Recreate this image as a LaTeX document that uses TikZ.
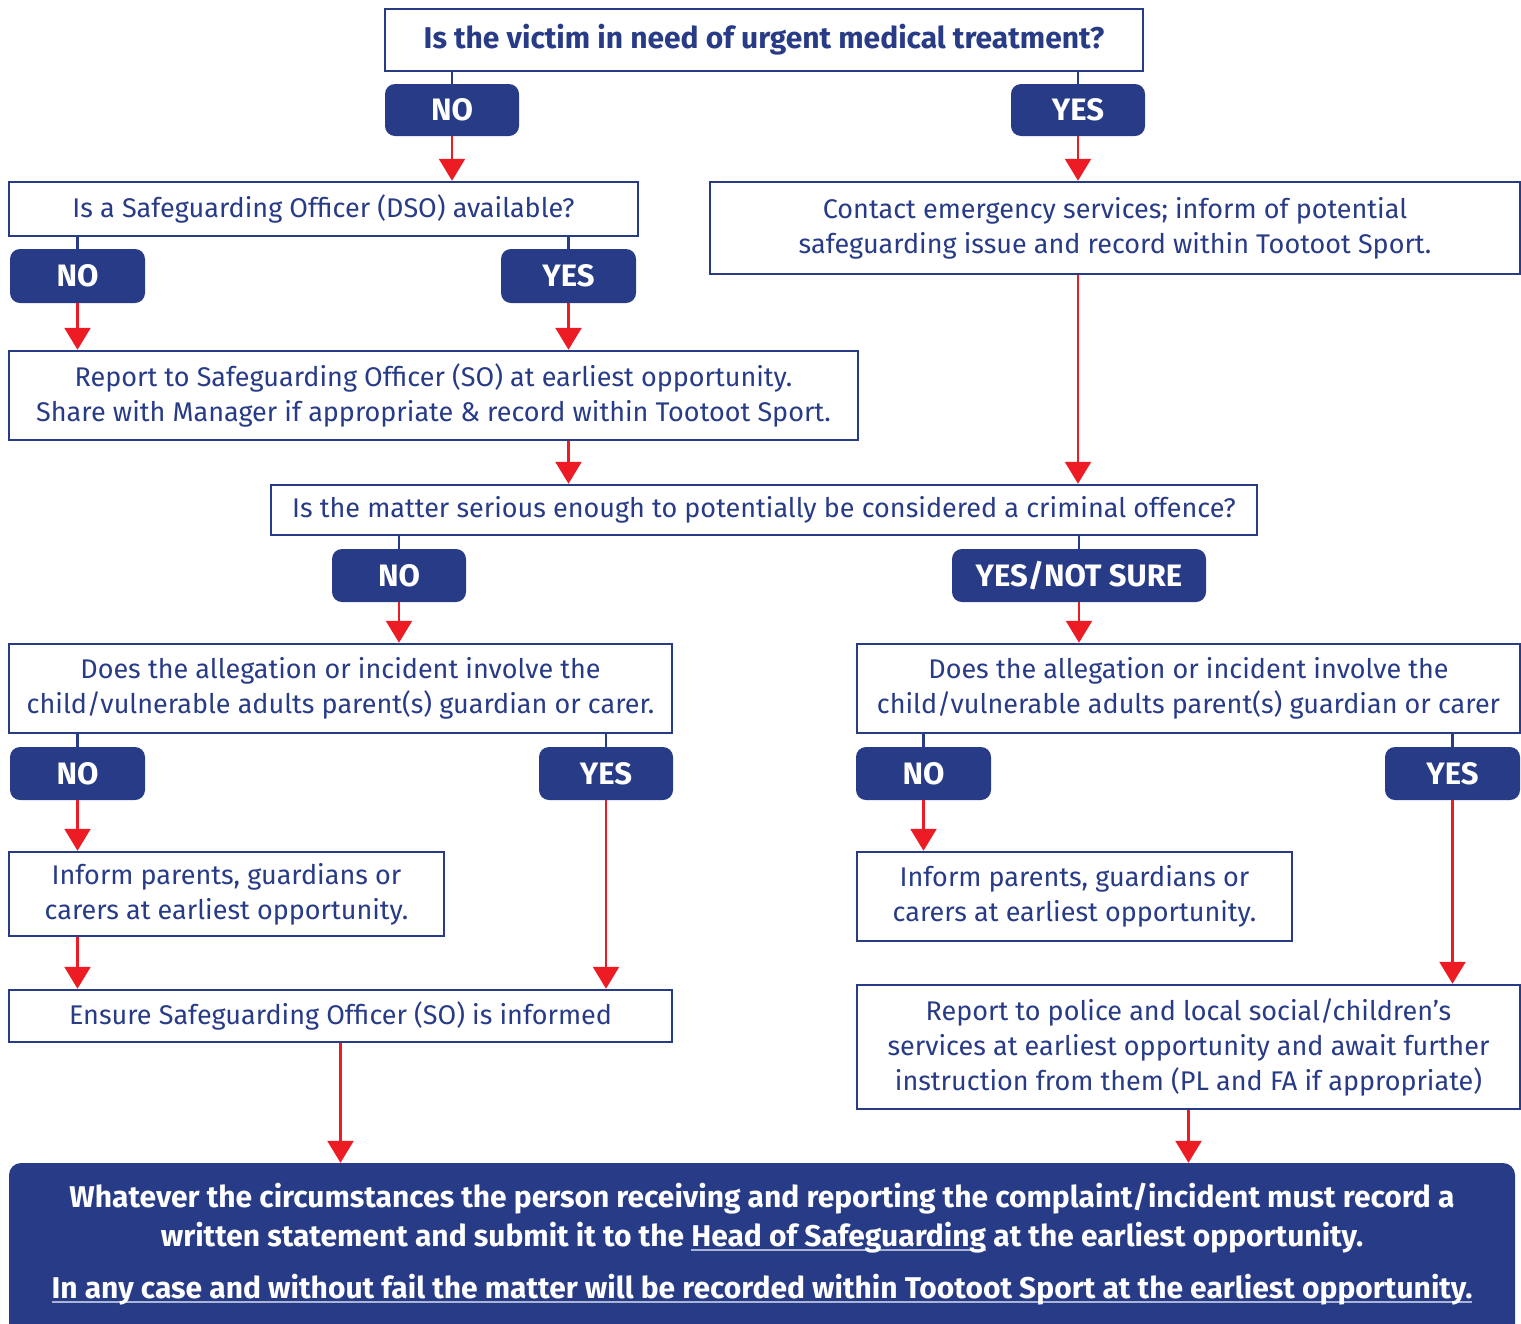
\documentclass[tikz,border=0pt]{standalone}
\usepackage{fontspec}
\setmainfont{Fira Sans}
\usetikzlibrary{arrows.meta}
\definecolor{navy}{RGB}{40,59,135}
\definecolor{arrred}{RGB}{237,28,36}
\definecolor{ullight}{RGB}{170,180,215}
\newcommand\myul[1]{\setbox0\hbox{#1}\rlap{\color{ullight}\rule[-5pt]{\wd0}{2pt}}\box0\relax}
\begin{document}
\begin{tikzpicture}[x=1pt,y=-1pt,
  box/.style={draw=navy, line width=2.5pt, fill=white, inner sep=0pt, align=center, text=navy,
     font=\fontsize{27}{35}\selectfont},
  topbox/.style={box, font=\bfseries\fontsize{30}{34}\selectfont},
  pill/.style={fill=navy, rounded corners=10pt, text=white, inner sep=0pt,
     font=\bfseries\fontsize{31}{32}\selectfont},
  arr/.style={draw=arrred, line width=2.5pt, -{Triangle[width=26pt,length=22pt]}},
  conn/.style={draw=navy, line width=2.5pt}]
\useasboundingbox (0,0) rectangle (1521,1323);

% boxes
\node[topbox, minimum width=758pt, minimum height=62pt] (b1) at (764,40) {Is the victim in need of urgent medical treatment?};
\node[box, minimum width=629pt, minimum height=54pt] (b4) at (323.5,209) {Is a Safeguarding Officer (DSO) available?};
\node[box, minimum width=810pt, minimum height=92pt] (b5) at (1115,228) {Contact emergency services; inform of potential\\safeguarding issue and record within Tootoot Sport.};
\node[box, minimum width=849pt, minimum height=89pt] (b8) at (433.5,395.5) {Report to Safeguarding Officer (SO) at earliest opportunity.\\Share with Manager if appropriate \& record within Tootoot Sport.};
\node[box, minimum width=986pt, minimum height=50pt] (b11) at (764,510) {Is the matter serious enough to potentially be considered a criminal offence?};
\node[box, minimum width=663pt, minimum height=89pt] (b14) at (340.5,688.5) {Does the allegation or incident involve the\\child/vulnerable adults parent(s) guardian or carer.};
\node[box, minimum width=663pt, minimum height=89pt] (b15) at (1188.5,688.5) {Does the allegation or incident involve the\\child/vulnerable adults parent(s) guardian or carer};
\node[box, minimum width=435pt, minimum height=84pt] (b20) at (226.5,894) {Inform parents, guardians or\\carers at earliest opportunity.};
\node[box, minimum width=663pt, minimum height=52pt] (b21) at (340.5,1016) {Ensure Safeguarding Officer (SO) is informed};
\node[box, minimum width=435pt, minimum height=89pt] (b22) at (1074.5,896.5) {Inform parents, guardians or\\carers at earliest opportunity.};
\node[box, minimum width=663pt, minimum height=124pt] (b23) at (1188.5,1047) {Report to police and local social/children’s\\services at earliest opportunity and await further\\instruction from them (PL and FA if appropriate)};

% bottom box
\node[fill=navy, rounded corners=12pt, minimum width=1506pt, minimum height=187pt, inner sep=0pt] (b24) at (762,1256.5) {};
\node[text=white, align=center, inner sep=0pt, font=\bfseries\fontsize{30}{39}\selectfont] (t24) at (762,1244) {Whatever the circumstances the person receiving and reporting the complaint/incident must record a\\written statement and submit it to the \myul{Head of Safeguarding} at the earliest opportunity.\\[13pt]\myul{In any case and without fail the matter will be recorded within Tootoot Sport at the earliest opportunity.}};

% pills
\node[pill, minimum width=134pt, minimum height=52pt] (p2) at (452,110) {NO};
\node[pill, minimum width=134pt, minimum height=52pt] (p3) at (1078,110) {YES};
\node[pill, minimum width=135pt, minimum height=54pt] (p6) at (77.5,276) {NO};
\node[pill, minimum width=135pt, minimum height=54pt] (p7) at (568.5,276) {YES};
\node[pill, minimum width=134pt, minimum height=53pt] (p12) at (399,575.5) {NO};
\node[pill, minimum width=254pt, minimum height=53pt] (p13) at (1079,575.5) {YES/NOT SURE};
\node[pill, minimum width=135pt, minimum height=53pt] (p16) at (77.5,773.5) {NO};
\node[pill, minimum width=134pt, minimum height=53pt] (p17) at (606,773.5) {YES};
\node[pill, minimum width=135pt, minimum height=53pt] (p18) at (923.5,773.5) {NO};
\node[pill, minimum width=135pt, minimum height=53pt] (p19) at (1452.5,773.5) {YES};

% navy connectors box -> pill
\draw[conn] (b1.south -| p2.north) -- (p2.north);
\draw[conn] (b1.south -| p3.north) -- (p3.north);
\draw[conn] (b4.south -| p6.north) -- (p6.north);
\draw[conn] (b4.south -| p7.north) -- (p7.north);
\draw[conn] (b11.south -| p12.north) -- (p12.north);
\draw[conn] (b11.south -| p13.north) -- (p13.north);
\draw[conn] (b14.south -| p16.north) -- (p16.north);
\draw[conn] (b14.south -| p17.north) -- (p17.north);
\draw[conn] (b15.south -| p18.north) -- (p18.north);
\draw[conn] (b15.south -| p19.north) -- (p19.north);

% red arrows
\draw[arr] (p2.south) -- (b4.north -| p2.south);
\draw[arr] (p3.south) -- (b5.north -| p3.south);
\draw[arr] (p6.south) -- (b8.north -| p6.south);
\draw[arr] (p7.south) -- (b8.north -| p7.south);
\draw[arr] (b8.south -| p7.south) -- (b11.north -| p7.south);
\draw[arr] (b5.south -| p3.south) -- (b11.north -| p3.south);
\draw[arr] (p12.south) -- (b14.north -| p12.south);
\draw[arr] (p13.south) -- (b15.north -| p13.south);
\draw[arr] (p16.south) -- (b20.north -| p16.south);
\draw[arr] (b20.south -| p16.south) -- (b21.north -| p16.south);
\draw[arr] (p17.south) -- (b21.north -| p17.south);
\draw[arr] (p18.south) -- (b22.north -| p18.south);
\draw[arr] (p19.south) -- (b23.north -| p19.south);
\draw[arr] (b21.south) -- (b24.north -| b21.south);
\draw[arr] (b23.south) -- (b24.north -| b23.south);
\end{tikzpicture}
\end{document}
